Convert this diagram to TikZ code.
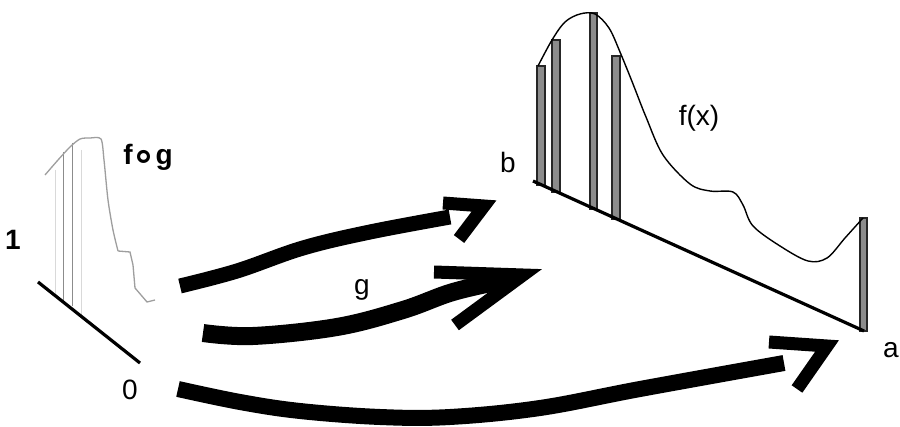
\documentclass[tikz,border=0pt]{standalone}
\usepackage{fontspec}
\setmainfont{Liberation Sans}
\newfontfamily\symfont{DejaVu Sans}
\begin{document}
\begin{tikzpicture}[x=1pt,y=-1pt,
  lbl/.style={inner sep=0pt,font=\fontsize{28}{30}\selectfont},
  blbl/.style={inner sep=0pt,font=\fontsize{28}{30}\selectfont\bfseries},
  axisline/.style={line width=3.2pt,black},
  curve/.style={line width=1.4pt,black},
  gcurve/.style={line width=1.3pt,black!38},
  gline/.style={line width=1pt,black!45},
  fline/.style={line width=0.8pt,black!15},
  barbox/.style={draw=black!85,fill=black!45,line width=1.2pt},
  shaft/.style={line width=#1,black,line cap=butt},
  head/.style={line width=13pt,black,line join=miter,line cap=butt}]
\useasboundingbox (0,0) rectangle (900,427);
\fill[white] (0,0) rectangle (900,427);

% ---------- left plot (f o g on [0,1]) ----------
\coordinate (L1) at (38,282);
\coordinate (L0) at (140,363);
\draw[fline] (55,170) -- (55,295);
\draw[fline] (81,150) -- (81,315);
\draw[gline] (63,152) -- (63,302);
\draw[gline] (72,143) -- (72,306);
\draw[gcurve] plot[smooth,tension=0.45] coordinates {(45,175) (58,160) (70,147) (80,139) (90,138) (101,139) (104,160) (108,200) (113,230) (118,251)};
\draw[gcurve] (118,251) -- (130,252) -- (133,265) -- (135,288) -- (147,302) -- (155,300);
\draw[axisline] (L1) -- (L0);
\node[blbl] (one) at (13,240) {1};
\node[lbl] (zero) at (130,390) {0};
\node[blbl,anchor=base] (fog) at (148,165) {f\kern-1pt{\symfont\fontsize{40}{40}\selectfont\bfseries\raisebox{-4.5pt}{∘}}\kern-1pt g};

% ---------- right plot (f on [a,b]) ----------
\coordinate (B) at (533,181);
\coordinate (A) at (864,331);
\draw[barbox] (537,66) rectangle (545,185);
\draw[barbox] (552,40) rectangle (560,192);
\draw[barbox] (590,13) rectangle (597,209);
\draw[barbox] (612,56) rectangle (620,219);
\draw[barbox] (860,218) rectangle (867,331);
\draw[curve] plot[smooth,tension=0.55] coordinates {(538,66) (552,40) (565,22) (580,14) (595,14) (609,28) (620,52) (633,84) (646,117) (663,155) (690,184) (710,191) (733,192) (743,205) (753,226) (780,246) (808,261) (827,258) (845,238) (863,218)};
\draw[axisline] (B) -- (A);
\node[lbl,anchor=base] (b) at (508,173) {b};
\node[lbl,anchor=base] (fx) at (699,126) {f(x)};
\node[lbl,anchor=base west] (a) at (883,358) {a};

% ---------- arrows g ----------
\coordinate (s1) at (180,286);
\coordinate (e1) at (450,217);
\draw[shaft=15pt] plot[smooth,tension=0.6] coordinates {(s1) (237,271) (303,248) (370,232) (e1)};
\draw[head] (443,203) -- (484,206) -- (459,239);

\coordinate (s2) at (203,333);
\coordinate (e2) at (505,280);
\draw[shaft=18pt] plot[smooth,tension=0.6] coordinates {(s2) (253,336) (337,327) (403,310) (453,292) (e2)};
\draw[head] (434,272) -- (523,275) -- (455,325);
\node[lbl,anchor=base] (g) at (362,295) {g};

\coordinate (s3) at (178,389);
\coordinate (e3) at (784,363);
\draw[shaft=16pt] plot[smooth,tension=0.6] coordinates {(s3) (240,402) (300,411) (380,417) (450,417) (540,408) (640,389) (e3)};
\draw[head] (769,342) -- (827,346) -- (797,389);
\end{tikzpicture}
\end{document}
